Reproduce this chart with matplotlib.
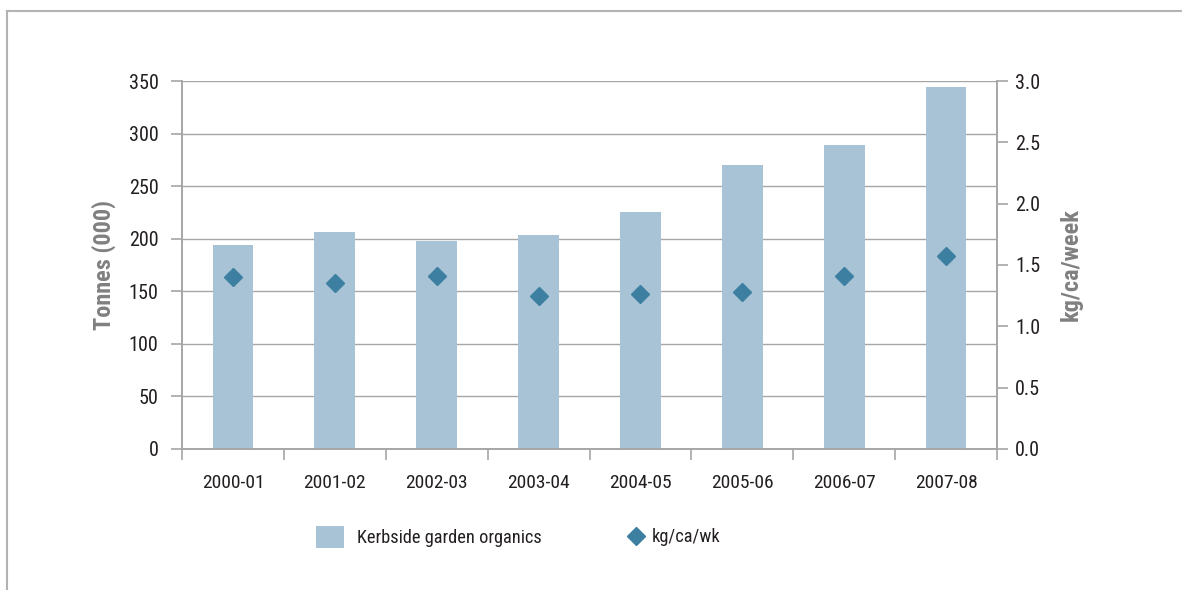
import matplotlib
matplotlib.use("Agg")
import matplotlib.pyplot as plt
from matplotlib import font_manager
from matplotlib.lines import Line2D
from matplotlib.patches import Patch
import numpy as np

# data
years = ["2000-01", "2001-02", "2002-03", "2003-04", "2004-05", "2005-06", "2006-07", "2007-08"]
tonnes = [194, 206, 198, 204, 225, 270, 289, 344]
kg_ca_wk = [1.40, 1.35, 1.41, 1.25, 1.26, 1.28, 1.41, 1.57]

# narrow font if there is one, otherwise Liberation Sans
fams = {f.name for f in font_manager.fontManager.ttflist}
font = "DejaVu Sans"
for cand in ["Roboto Condensed", "Liberation Sans Narrow", "Liberation Sans"]:
    if cand in fams:
        font = cand
        break
plt.rcParams['font.family'] = [font, 'DejaVu Sans']

bar_col = "#a7c3d5"
dot_col = "#3d7fa0"
grid_col = "#a6a6a6"
txt_col = "#231f20"
lab_col = "#808080"

fig = plt.figure(figsize=(11.82, 5.90), dpi=100)
ax = fig.add_axes([0.154, 0.239, 0.6895, 0.6237])
ax2 = ax.twinx()

x = np.arange(len(years))
ax.bar(x, tonnes, width=0.4, color=bar_col, zorder=2)
ax2.plot(x, kg_ca_wk, linestyle="none", marker="D", markersize=9, color=dot_col, zorder=3)

ax.set_xlim(-0.5, len(years) - 0.5)
ax.set_ylim(0, 350)
ax.set_yticks(range(0, 351, 50))
ax2.set_ylim(0, 3.0)
ax2.set_yticks(np.arange(0, 3.01, 0.5))
ax2.set_yticklabels([f"{v:.1f}" for v in np.arange(0, 3.01, 0.5)])

ax.yaxis.grid(True, color=grid_col, linewidth=1.0, zorder=0)
ax.set_axisbelow(True)

# ticks at the category edges, labels in the middle
ax.set_xticks(np.arange(-0.5, len(years), 1))
ax.set_xticklabels([])
ax.set_xticks(x, minor=True)
ax.set_xticklabels(years, minor=True)
ax.tick_params(axis="x", which="minor", length=0, pad=18, labelsize=14, labelcolor=txt_col)
ax.tick_params(axis="x", which="major", length=8, width=1.2, color=grid_col, direction="out")
ax.tick_params(axis="y", length=8, width=1.2, color=grid_col, labelsize=14.5, labelcolor=txt_col, pad=9)
ax2.tick_params(axis="y", length=8, width=1.2, color=grid_col, labelsize=14.5, labelcolor=txt_col, pad=5)

for a in (ax, ax2):
    a.spines["top"].set_visible(False)
    for s in ("left", "right", "bottom"):
        a.spines[s].set_color(grid_col)
        a.spines[s].set_linewidth(1.2)

ax.set_ylabel("Tonnes (000)", fontsize=17.5, fontweight="bold", color=lab_col, labelpad=9)
ax2.set_ylabel("kg/ca/week", fontsize=17.5, fontweight="bold", color=lab_col, labelpad=14)

# two legend entries placed on their own, as in the original
leg_y = 1 - 537 / 590
leg1 = fig.legend([Patch(facecolor=bar_col, edgecolor="none")], ["Kerbside garden organics"],
                  loc="center left", bbox_to_anchor=(316 / 1182, leg_y), frameon=False,
                  fontsize=13.2, handlelength=1.5, handleheight=1.5, handletextpad=0.75,
                  borderpad=0, borderaxespad=0, labelcolor=txt_col)
leg2 = fig.legend([Line2D([], [], linestyle="none", marker="D", markersize=9, color=dot_col)],
                  ["kg/ca/wk"], loc="center left", bbox_to_anchor=(622 / 1182, leg_y),
                  frameon=False, fontsize=13.2, handlelength=1.5, handletextpad=0.1,
                  borderpad=0, borderaxespad=0, labelcolor=txt_col)

# outer frame
fig.add_artist(Line2D([7 / 1182, 1], [1 - 11 / 590, 1 - 11 / 590], color="#b3b3b3", linewidth=1.5))
fig.add_artist(Line2D([7 / 1182, 7 / 1182], [0, 1 - 11 / 590], color="#b3b3b3", linewidth=1.5))

fig.savefig("out.png", dpi=100)
